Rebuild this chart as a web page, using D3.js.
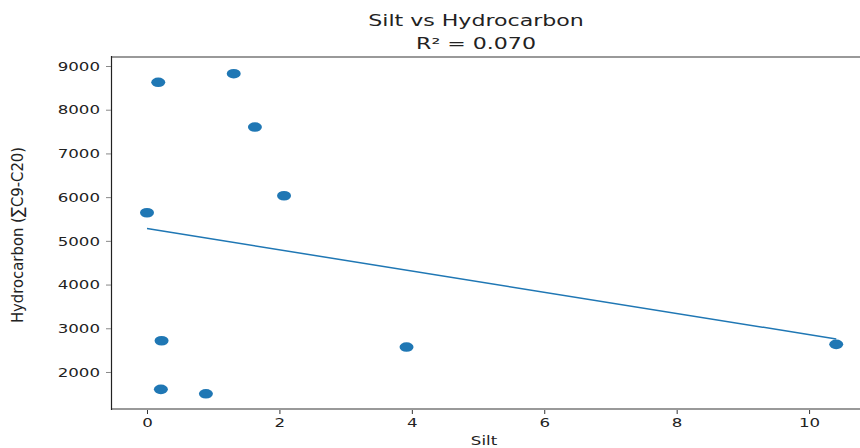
<!DOCTYPE html>
<html>
<head>
<meta charset="utf-8">
<script src="https://cdn.jsdelivr.net/npm/d3@7"></script>
<style>
  body { margin: 0; background: #fff; overflow: hidden; }
  text { font-family: "DejaVu Sans", sans-serif; fill: #222; }
</style>
</head>
<body>
<div id="chart"></div>
<script>
// data
const siltValues = [0.17, 1.31, 1.63, 2.07, 0.0, 0.22, 0.21, 0.89, 3.92, 10.41];
const hydroValues = [8627, 8824, 7604, 6032, 5643, 2714, 1602, 1501, 2570, 2632];
const xTicks = [0, 2, 4, 6, 8, 10];
const yTicks = [2000, 3000, 4000, 5000, 6000, 7000, 8000, 9000];
const titleLines = ["Silt vs Hydrocarbon", "R² = 0.070"];
const xLabel = "Silt";
const yLabel = "Hydrocarbon (∑C9-C20)";

const width = 860, height = 448;
// the picture is stretched sideways, so text gets a wider scale
const stretch = 1.28;
const blue = "#1f77b4";

const svg = d3.select("#chart").append("svg")
  .attr("width", width)
  .attr("height", height);

const xScale = d3.scaleLinear().domain([-0.533, 10.92]).range([111.7, 870]);
const yScale = d3.scaleLinear().domain([1153, 9206]).range([409, 57]);

// least squares fit for the trend line
const mx = d3.mean(siltValues), my = d3.mean(hydroValues);
let sxy = 0, sxx = 0;
siltValues.forEach((x, i) => { sxy += (x - mx) * (hydroValues[i] - my); sxx += (x - mx) ** 2; });
const slope = sxy / sxx, intercept = my - slope * mx;
const xMin = d3.min(siltValues), xMax = d3.max(siltValues);

// spines
svg.append("line").attr("x1", 111).attr("x2", width).attr("y1", 57).attr("y2", 57)
  .attr("stroke", "#999").attr("stroke-width", 2);
svg.append("line").attr("x1", 111).attr("x2", width).attr("y1", 409).attr("y2", 409)
  .attr("stroke", "#999").attr("stroke-width", 2);
svg.append("line").attr("x1", 111.5).attr("x2", 111.5).attr("y1", 56).attr("y2", 410)
  .attr("stroke", "#222").attr("stroke-width", 1.2);

// x axis
const xAxis = svg.append("g")
  .attr("transform", "translate(0,410)")
  .call(d3.axisBottom(xScale).tickValues(xTicks).tickFormat(d3.format("d")).tickSize(4).tickPadding(4));
xAxis.select(".domain").remove();
xAxis.selectAll(".tick line").attr("stroke", "#333");
xAxis.selectAll(".tick text")
  .attr("transform", `scale(${stretch},1)`)
  .style("font-size", "13px")
  .style("font-family", "DejaVu Sans")
  .attr("fill", "#333");

// y axis
const yAxis = svg.append("g")
  .attr("transform", "translate(111,0)")
  .call(d3.axisLeft(yScale).tickValues(yTicks).tickFormat(d3.format("d")).tickSize(5).tickPadding(5));
yAxis.select(".domain").remove();
yAxis.selectAll(".tick line").attr("stroke", "#888");
yAxis.selectAll(".tick text")
  .attr("x", -11 / stretch)
  .attr("transform", `scale(${stretch},1)`)
  .style("font-size", "13px")
  .style("font-family", "DejaVu Sans")
  .attr("fill", "#333");

// trend line
svg.append("line")
  .attr("x1", xScale(xMin)).attr("y1", yScale(intercept + slope * xMin))
  .attr("x2", xScale(xMax)).attr("y2", yScale(intercept + slope * xMax))
  .attr("stroke", blue).attr("stroke-width", 1.5);

// points
svg.selectAll(".dot")
  .data(siltValues.map((x, i) => ({ x, y: hydroValues[i] })))
  .join("ellipse")
  .attr("class", "dot")
  .attr("cx", d => xScale(d.x))
  .attr("cy", d => yScale(d.y))
  .attr("rx", 7)
  .attr("ry", 4.8)
  .attr("fill", blue);

// title
svg.selectAll(".title")
  .data(titleLines)
  .join("text")
  .attr("class", "title")
  .attr("transform", (d, i) => `translate(476,${26 + i * 23}) scale(1.38,1)`)
  .attr("text-anchor", "middle")
  .style("font-size", "16px")
  .text(d => d);

// axis labels
svg.append("text")
  .attr("transform", `translate(484,445) scale(${stretch},1)`)
  .attr("text-anchor", "middle")
  .style("font-size", "13px")
  .text(xLabel);

svg.append("text")
  .attr("transform", "translate(23,235) rotate(-90)")
  .attr("text-anchor", "middle")
  .style("font-family", "'Liberation Sans Narrow', 'DejaVu Sans Condensed', sans-serif")
  .style("font-size", "16.5px")
  .text(yLabel);
</script>
</body>
</html>
